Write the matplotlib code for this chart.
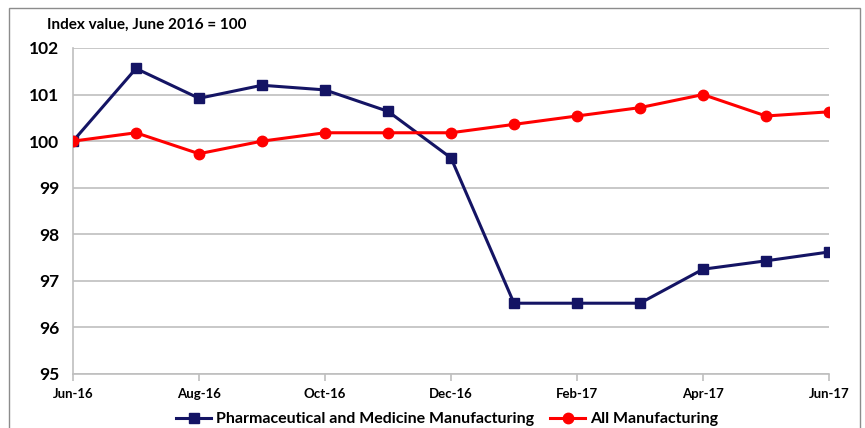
import matplotlib
matplotlib.use("Agg")
import matplotlib.pyplot as plt
from matplotlib.patches import Rectangle

# monthly index values, June 2016 = 100
months = ["Jun-16", "Jul-16", "Aug-16", "Sep-16", "Oct-16", "Nov-16", "Dec-16",
          "Jan-17", "Feb-17", "Mar-17", "Apr-17", "May-17", "Jun-17"]
pharma = [100.0, 101.56, 100.92, 101.2, 101.1, 100.64, 99.64,
          96.52, 96.52, 96.52, 97.25, 97.43, 97.62]
all_mfg = [100.0, 100.18, 99.73, 100.0, 100.18, 100.18, 100.18,
           100.36, 100.54, 100.72, 101.0, 100.54, 100.63]
yticks = [95, 96, 97, 98, 99, 100, 101, 102]

plt.rcParams["font.family"] = ["Lato", "DejaVu Sans"]
plt.rcParams["font.weight"] = "bold"

W, H = 865, 428
fig = plt.figure(figsize=(W / 100, H / 100), dpi=100)

# outer chart frame
fig.patches.append(Rectangle((9 / W, -0.02), 851 / W, 1.02 - 8 / H,
                             transform=fig.transFigure, fill=False,
                             edgecolor="#8c8c8c", linewidth=1.0))

ax = fig.add_axes([73 / W, (H - 374) / H, (829 - 73) / W, (374 - 48) / H])
x = list(range(len(months)))

ax.plot(x, pharma, color="#141464", linewidth=2.2, marker="s", markersize=7,
        label="Pharmaceutical and Medicine Manufacturing", zorder=3)
ax.plot(x, all_mfg, color="#ff0000", linewidth=2.2, marker="o", markersize=7.5,
        label="All Manufacturing", zorder=3)

ax.set_xlim(0, len(months) - 1)
ax.set_ylim(95, 102)
ax.set_yticks(yticks)
ax.set_yticklabels([str(v) for v in yticks], fontsize=12.5, fontweight="bold")
ax.set_xticks(x[::2])
ax.set_xticklabels(months[::2], fontsize=9.5, fontweight="bold")

ax.grid(axis="y", color="#bfbfbf", linewidth=1.2)
ax.set_axisbelow(True)
for side in ["top", "right"]:
    ax.spines[side].set_visible(False)
for side in ["left", "bottom"]:
    ax.spines[side].set_color("#bfbfbf")
    ax.spines[side].set_linewidth(1.2)
ax.tick_params(axis="y", length=0, pad=10)
ax.tick_params(axis="x", length=5, color="#bfbfbf", width=1.2, pad=5)

fig.text(47 / W, 1 - 25 / H, "Index value, June 2016 = 100", fontsize=11,
         fontweight="bold", va="center", ha="left")

fig.legend(loc="center", bbox_to_anchor=(447 / W, 1 - 419 / H), ncol=2,
           frameon=False, handlelength=2.2, columnspacing=1.0,
           handletextpad=0.3, prop={"weight": "bold", "size": 11.5})

fig.savefig("out.png", dpi=100)
